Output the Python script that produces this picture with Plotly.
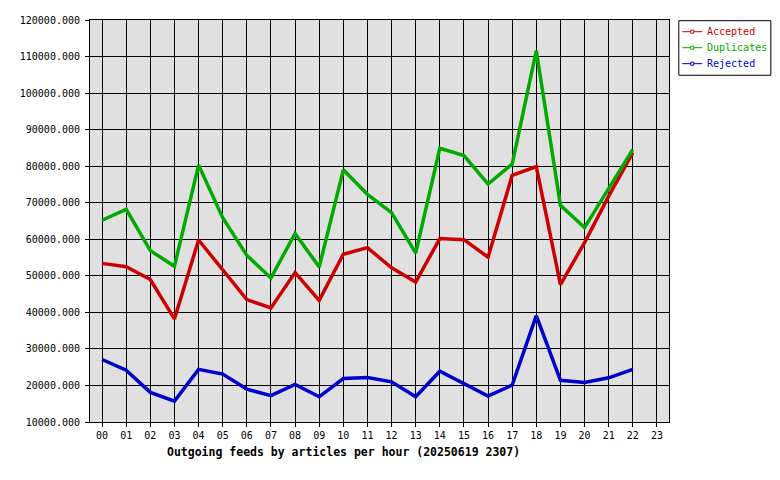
import plotly.graph_objects as go

hours = ["%02d" % h for h in range(24)]
accepted = [53400, 52500, 49000, 38200, 59800, 51600, 43500, 41200, 50900, 43300,
            55900, 57700, 52200, 48300, 60200, 59900, 55100, 77500, 79900, 47600,
            59100, 71800, 83700]
duplicates = [65200, 68200, 56900, 52600, 80300, 65900, 55600, 49400, 61600, 52400,
              79000, 72300, 67300, 56200, 84900, 82900, 75100, 80600, 111600, 69300,
              63200, 74000, 84600]
rejected = [27100, 24200, 18100, 15700, 24400, 23100, 19000, 17200, 20300, 16900,
            21900, 22200, 21000, 16900, 23900, 20500, 17100, 20100, 39100, 21400,
            20800, 22100, 24400]

series_names = ["Accepted", "Duplicates", "Rejected"]
series_values = [accepted, duplicates, rejected]
series_colors = ["#cc0000", "#00aa00", "#0000cc"]

MONO = "DejaVu Sans Mono"

# page offset (browser body margin) and plot-area geometry in figure pixels
W, H = 772, 472
L, T = 82, 12
PR, PB = 660.7, 414.3
PW, PH = PR - L, PB - T


def px(x):
    return (x - L) / PW


def py(y):
    return (PB - y) / PH


fig = go.Figure()
for name, vals, col in zip(series_names, series_values, series_colors):
    fig.add_trace(go.Scatter(
        x=list(range(len(vals))), y=vals, mode="lines", name=name,
        line=dict(color=col, width=3.5), showlegend=False,
    ))

# custom legend box matching the original
shapes = [dict(type="rect", xref="paper", yref="paper",
               x0=px(670.5), x1=px(762.5), y0=py(12.7), y1=py(67.3),
               line=dict(color="black", width=1), fillcolor="white", layer="above")]
annotations = []
for i, (name, col) in enumerate(zip(series_names, series_colors)):
    yy = 23.7 + i * 16
    shapes.append(dict(type="line", xref="paper", yref="paper",
                       x0=px(674), x1=px(694), y0=py(yy), y1=py(yy),
                       line=dict(color=col, width=1), layer="above"))
    shapes.append(dict(type="rect", xref="paper", yref="paper",
                       x0=px(682.5), x1=px(685.5), y0=py(yy - 1.5), y1=py(yy + 1.5),
                       line=dict(color=col, width=1), fillcolor="white", layer="above"))
    annotations.append(dict(text=name, xref="paper", yref="paper",
                            x=px(697), y=py(yy), xanchor="left", yanchor="middle",
                            showarrow=False,
                            font=dict(family=MONO, size=10, color=col)))

annotations.append(dict(text="<b>Outgoing feeds by articles per hour (20250619 2307)</b>",
                        xref="paper", yref="paper", x=px(335), y=py(444),
                        xanchor="center", yanchor="middle", showarrow=False,
                        font=dict(family=MONO, size=11.5, color="black")))

fig.update_layout(
    width=W, height=H,
    margin=dict(l=L, r=W - PR, t=T, b=H - PB, autoexpand=False),
    paper_bgcolor="white", plot_bgcolor="#e0e0e0",
    font=dict(family=MONO, size=10, color="black"),
    showlegend=False,
    xaxis=dict(range=[-0.5, 23.5], tickmode="array",
               tickvals=list(range(24)), ticktext=hours,
               showgrid=True, gridcolor="black", gridwidth=1,
               showline=True, linecolor="black", linewidth=1, mirror=True,
               ticks="outside", ticklen=4, tickcolor="black",
               zeroline=False, fixedrange=True, automargin=False),
    yaxis=dict(range=[10000, 120000], dtick=10000, tick0=10000, tickformat=".3f",
               showgrid=True, gridcolor="black", gridwidth=1,
               showline=True, linecolor="black", linewidth=1, mirror=True,
               ticks="outside", ticklen=4, tickcolor="black", ticklabelstandoff=3,
               zeroline=False, fixedrange=True, automargin=False),
    shapes=shapes,
    annotations=annotations,
)

fig.write_html("out.html")
